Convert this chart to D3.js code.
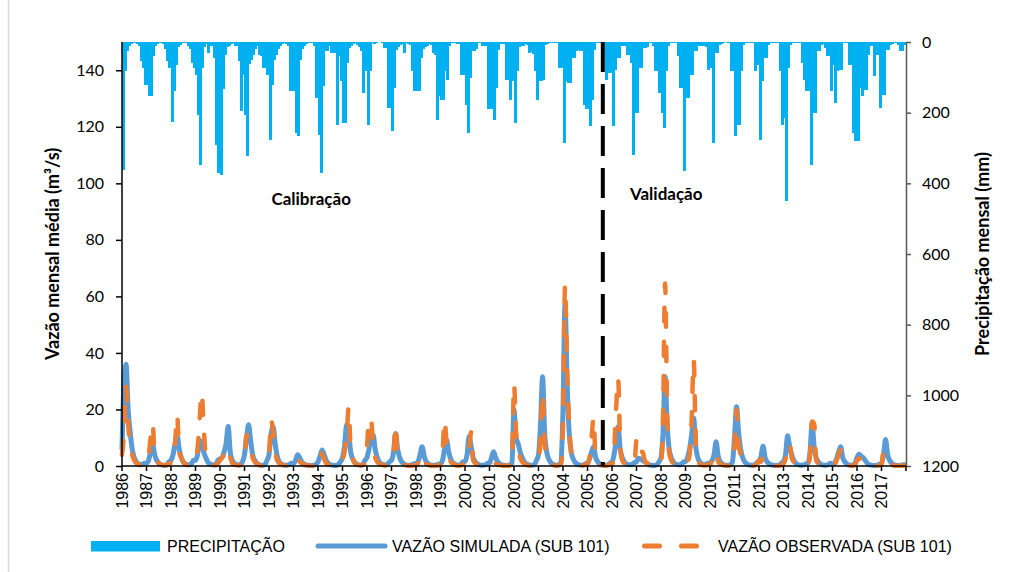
<!DOCTYPE html>
<html lang="pt-BR">
<head>
<meta charset="utf-8">
<script src="https://cdn.jsdelivr.net/npm/d3@7"></script>
<style>
  body { margin: 0; background: #fff; }
  svg { display: block; }
</style>
</head>
<body>
<script>
// dimensões da figura
const w = 1015;
const h = 572;

// anos (rótulos do eixo x) — série mensal de jan/1986 a dez/2017
const anos = d3.range(1986, 2018);

// precipitação mensal (mm), uma linha por ano
const precipitacao = [
  361, 83, 25, 12, 5, 3, 3, 5, 10, 55, 74, 121,
  121, 154, 154, 40, 12, 5, 3, 2, 5, 20, 55, 74,
  225, 140, 65, 15, 8, 3, 2, 3, 10, 20, 60, 74,
  92, 206, 347, 74, 15, 5, 30, 12, 10, 45, 291, 371,
  375, 133, 36, 15, 10, 5, 3, 12, 12, 55, 196, 92,
  206, 324, 62, 50, 36, 20, 10, 36, 40, 74, 74, 92,
  276, 121, 50, 36, 20, 12, 5, 3, 5, 12, 140, 140,
  140, 258, 267, 50, 20, 10, 5, 3, 3, 4, 10, 158,
  262, 371, 125, 26, 26, 12, 31, 31, 31, 234, 40, 111,
  229, 229, 59, 17, 10, 5, 3, 8, 15, 25, 144, 83,
  234, 83, 3, 5, 2, 0, 1, 4, 17, 17, 187, 187,
  253, 130, 22, 14, 8, 5, 31, 2, 7, 9, 83, 140,
  140, 140, 45, 20, 15, 10, 5, 8, 30, 38, 220, 154,
  163, 163, 83, 107, 12, 3, 3, 2, 7, 7, 92, 92,
  177, 258, 102, 26, 26, 20, 3, 3, 12, 12, 12, 191,
  191, 191, 220, 130, 22, 7, 5, 7, 107, 107, 163, 111,
  229, 83, 14, 12, 10, 5, 8, 31, 28, 33, 83, 163,
  111, 111, 107, 8, 7, 3, 2, 3, 3, 4, 74, 74,
  286, 111, 116, 116, 45, 45, 26, 22, 26, 26, 177, 191,
  191, 239, 163, 22, 3, 3, 2, 3, 4, 107, 88, 88,
  239, 78, 45, 45, 12, 12, 10, 36, 36, 59, 319, 201,
  201, 74, 74, 17, 17, 15, 3, 3, 12, 83, 83, 144,
  200, 243, 83, 12, 3, 3, 2, 3, 40, 130, 130, 366,
  158, 158, 92, 92, 26, 26, 12, 10, 12, 12, 14, 78,
  74, 286, 31, 31, 8, 7, 2, 1, 3, 2, 83, 83,
  267, 234, 234, 83, 8, 3, 3, 2, 3, 3, 83, 64,
  276, 111, 45, 45, 8, 3, 3, 2, 3, 3, 83, 234,
  215, 451, 74, 8, 3, 3, 2, 3, 3, 59, 107, 140,
  140, 347, 201, 201, 26, 26, 8, 7, 17, 40, 40, 140,
  64, 173, 83, 78, 78, 3, 3, 2, 64, 64, 258, 281,
  281, 130, 154, 135, 135, 36, 12, 12, 97, 36, 36, 187,
  149, 149, 22, 22, 8, 7, 3, 3, 8, 26, 26, 8
];

// vazão simulada (m³/s)
const vazaoSimulada = [
  6, 30, 36, 20, 12, 6, 3, 1.5, 0.8, 0.5, 0.5, 1,
  1, 2, 5, 7.5, 4, 2, 1, 0.5, 0.3, 0.3, 0.5, 1.5,
  2, 4, 8, 11, 6, 3, 1.5, 0.8, 0.5, 0.4, 0.8, 2,
  2, 4, 9, 8, 5, 3, 1.5, 0.8, 0.5, 0.4, 0.6, 2,
  2.5, 3, 5, 8, 14, 5, 2, 1, 0.5, 0.4, 0.5, 1.5,
  4, 10, 14.6, 9, 4, 2, 1, 0.5, 0.3, 0.3, 0.5, 2,
  4, 11, 14, 8, 3.5, 1.5, 0.8, 0.4, 0.3, 0.3, 0.5, 1,
  0.8, 2, 4, 3, 1.5, 0.8, 0.4, 0.3, 0.2, 0.2, 0.3, 0.6,
  1.5, 3.5, 5.7, 4, 2, 1, 0.5, 0.3, 0.2, 0.2, 0.6, 1.5,
  3, 7, 14.6, 12, 5, 2.5, 1.2, 0.6, 0.4, 0.3, 0.6, 2,
  3, 6, 10, 11, 6, 3, 1.5, 0.8, 0.5, 0.4, 0.6, 1.5,
  2, 5, 11.5, 6, 3, 1.5, 0.8, 0.4, 0.3, 0.3, 0.4, 0.8,
  0.8, 1.5, 4, 6.8, 3.5, 1.5, 0.8, 0.4, 0.3, 0.3, 0.4, 0.6,
  0.8, 2, 6, 9.2, 5, 2.5, 1.2, 0.6, 0.4, 0.3, 0.5, 1.5,
  1.5, 4, 10.4, 7, 3, 1.5, 0.8, 0.4, 0.3, 0.3, 0.4, 1,
  1, 3, 5, 3, 1.5, 0.8, 0.4, 0.3, 0.2, 0.2, 0.4, 1.2,
  19.8, 10, 8, 5, 3, 1.5, 0.8, 0.5, 0.3, 0.3, 0.6, 2,
  4, 15, 31.6, 12, 5, 2.5, 1.2, 0.6, 0.4, 0.3, 0.5, 1.5,
  20, 57.5, 30, 12, 5, 2.5, 1.2, 0.6, 0.4, 0.3, 0.4, 0.8,
  1, 2.5, 5, 6.8, 3, 1.5, 0.8, 0.4, 0.3, 0.3, 0.4, 1,
  1.5, 4, 9, 13.9, 6, 3, 1.5, 0.8, 0.5, 0.4, 0.6, 1.2,
  1.5, 2.7, 2.5, 2, 1.5, 1, 0.5, 0.3, 0.2, 0.2, 0.5, 1.5,
  3, 12, 31.6, 15, 6, 3, 1.5, 0.8, 0.5, 0.4, 0.6, 1.5,
  1.5, 3, 6, 11, 16.9, 7, 3, 1.5, 0.8, 0.5, 0.5, 1,
  1, 2, 4, 8.6, 3.5, 1.5, 0.8, 0.4, 0.3, 0.3, 0.5, 1.5,
  10, 21, 12, 6, 3, 1.5, 0.8, 0.4, 0.3, 0.3, 0.5, 1.2,
  1.5, 3.5, 7, 3, 1.5, 0.8, 0.4, 0.3, 0.2, 0.2, 0.4, 1,
  1.5, 4, 10.7, 7, 4, 2, 1, 0.5, 0.3, 0.3, 0.4, 0.8,
  1, 5, 15, 7, 3, 1.5, 0.8, 0.4, 0.3, 0.3, 0.5, 1,
  0.5, 1, 2.5, 5, 6.8, 3, 1.5, 0.8, 0.4, 0.3, 0.4, 0.8,
  3, 4.2, 3.5, 3, 2, 1, 0.5, 0.3, 0.2, 0.2, 0.3, 0.6,
  1, 4, 9.4, 4, 2, 1, 0.5, 0.3, 0.2, 0.2, 0.3, 0.5
];

// vazão observada (m³/s)
const vazaoObservada = [
  4, 12, 28, 15, 8, 4, 2, 1, 0.5, 0.3, 0.3, 0.5,
  0.5, 3, 10, 15, 4, 2, 1, 0.5, 0.3, 0.3, 0.3, 1,
  1, 4, 8, 18, 5, 3, 1.5, 0.5, 0.3, 0.3, 0.5, 2,
  2, 6, 16, 26, 14, 4, 2, 1, 0.5, 0.3, 0.3, 1,
  2, 3, 4, 6.5, 4, 3, 1, 0.5, 0.3, 0.2, 0.3, 1,
  3, 11, 9, 8, 3, 1.5, 0.8, 0.4, 0.2, 0.2, 0.3, 1.5,
  3, 16.4, 12, 5, 2, 1, 0.5, 0.3, 0.2, 0.2, 0.3, 0.5,
  0.3, 1.5, 2.7, 1.5, 1, 0.5, 0.3, 0.2, 0.1, 0.1, 0.1, 0.3,
  2, 5, 4, 2.5, 1, 0.5, 0.3, 0.2, 0.1, 0.1, 0.1, 0.5,
  2, 5, 10, 20.6, 6, 3, 1, 0.5, 0.3, 0.2, 0.3, 1,
  7, 16.5, 17, 6, 3, 1.5, 0.8, 0.4, 0.3, 0.2, 0.3, 0.8,
  1.5, 4, 14.5, 3, 2, 1, 0.5, 0.3, 0.2, 0.1, 0.1, 0.3,
  0.3, 1, 4, 3, 1.5, 0.8, 0.4, 0.2, 0.1, 0.1, 0.1, 0.3,
  0.5, 5, 16.3, 8, 3.5, 1.5, 0.8, 0.4, 0.2, 0.1, 0.2, 0.5,
  1, 4.5, 6, 12, 2, 1, 0.5, 0.3, 0.2, 0.1, 0.1, 0.4,
  0.5, 1, 1, 0.8, 0.5, 0.3, 0.2, 0.1, 0.1, 0.1, 0.2, 0.5,
  29, 12, 6, 3, 1.5, 0.8, 0.4, 0.2, 0.1, 0.1, 0.2, 1,
  2, 10, 26, 8, 3, 1.5, 0.7, 0.4, 0.2, 0.1, 0.2, 0.8,
  15, 64, 35, 15, 5, 2, 1, 0.5, 0.3, 0.2, 0.2, 0.5,
  0.5, 3, 10, 17, 2, 1, 0.5, 0.3, 0.2, 0.1, 0.2, 0.8,
  0.5, 5, 20, 31, 8, 2, 1, 0.5, 0.3, 0.2, 0.3, 0.8,
  9, 4, 5, 5, 2, 1, 0.5, 0.3, 0.2, 0.1, 0.2, 0.5,
  1, 18, 64.6, 20, 5, 2, 1, 0.5, 0.3, 0.2, 0.2, 0.5,
  0.5, 1.5, 4, 16, 37.5, 10, 2, 0.8, 0.4, 0.2, 0.2, 0.5,
  0.3, 2, 2.5, 5, 1.5, 0.8, 0.4, 0.2, 0.1, 0.1, 0.2, 1,
  6, 19.8, 8, 4, 2, 1, 0.5, 0.3, 0.2, 0.1, 0.2, 0.8,
  2, 1.5, 3.3, 1.5, 0.8, 0.4, 0.2, 0.1, 0.1, 0.1, 0.1, 0.3,
  0.8, 2.5, 6, 8, 3, 1.5, 0.7, 0.3, 0.2, 0.1, 0.1, 0.3,
  0.5, 4, 15.7, 15, 2, 1, 0.5, 0.3, 0.2, 0.1, 0.1, 0.3,
  0.2, 0.5, 2, 4, 5.6, 2, 0.8, 0.4, 0.2, 0.1, 0.1, 0.3,
  2, 2.7, 2, 1.5, 0.8, 0.4, 0.2, 0.1, 0.1, 0.1, 0.1, 0.2,
  0.5, 5, 3, 1.5, 0.8, 0.4, 0.2, 0.1, 0.1, 0.1, 0.1, 0.2
];

// ticks dos eixos y
const ticksVazao = d3.range(0, 141, 20);
const ticksPrecip = d3.range(0, 1201, 200);

// divisão calibração / validação (ano, mês) e rótulos dos períodos
const divisao = { ano: 2005, mes: 8.5 };
const periodos = [
  { nome: "Calibração", ano: 1992, mes: 2.2, vazao: 92.3 },
  { nome: "Validação", ano: 2006, mes: 9.8, vazao: 94 }
];

const mesIndice = (ano, mes) => (ano - anos[0]) * 12 + mes - 1;

// escalas
const x = d3.scaleLinear().domain([0, precipitacao.length]).range([122, 906]);
const yVazao = d3.scaleLinear().domain([0, 150]).range([466, 42]);
const yPrecip = d3.scaleLinear().domain([0, 1200]).range([42, 466]);

const svg = d3.select("body").append("svg").attr("width", w).attr("height", h);

// borda esquerda da área do gráfico
svg.append("line")
  .attr("x1", 8.5).attr("x2", 8.5)
  .attr("y1", 0).attr("y2", h)
  .attr("stroke", "#d9d9d9").attr("stroke-width", 1.5);

// barras de precipitação (eixo secundário invertido), em pixels inteiros para não deixar frestas
svg.append("g")
  .attr("shape-rendering", "crispEdges")
  .selectAll("rect")
  .data(precipitacao)
  .enter()
  .append("rect")
  .attr("x", (d, i) => Math.floor(x(i)))
  .attr("y", yPrecip(0))
  .attr("width", (d, i) => Math.ceil(x(i + 1)) - Math.floor(x(i)))
  .attr("height", (d) => yPrecip(d) - yPrecip(0))
  .attr("fill", "#00b0f0");

// linhas de vazão
const linha = d3.line()
  .x((d, i) => x(i))
  .y((d) => yVazao(d))
  .curve(d3.curveMonotoneX);

svg.append("path")
  .attr("d", linha(vazaoSimulada))
  .attr("fill", "none")
  .attr("stroke", "#5b9bd5")
  .attr("stroke-width", 5)
  .attr("stroke-linejoin", "round")
  .attr("stroke-linecap", "round");

svg.append("path")
  .attr("d", linha(vazaoObservada))
  .attr("fill", "none")
  .attr("stroke", "#ed7d31")
  .attr("stroke-width", 4.5)
  .attr("stroke-linejoin", "round")
  .attr("stroke-linecap", "round")
  .attr("stroke-dasharray", "14 20");

// linha tracejada de divisão
const xDiv = x(mesIndice(divisao.ano, divisao.mes));
svg.append("line")
  .attr("x1", xDiv).attr("x2", xDiv)
  .attr("y1", yVazao(150)).attr("y2", yVazao(0))
  .attr("stroke", "#000")
  .attr("stroke-width", 4)
  .attr("stroke-dasharray", "30 12");

// eixo esquerdo
const eixoEsq = svg.append("g")
  .attr("transform", "translate(122,0)")
  .call(d3.axisLeft(yVazao).tickValues(ticksVazao).tickSize(6).tickPadding(12).tickSizeOuter(0));
eixoEsq.select(".domain").attr("stroke", "#000").attr("stroke-width", 1.5)
  .attr("d", `M0,${yVazao(0)}V${yVazao(150)}`);
eixoEsq.selectAll(".tick line").attr("stroke", "#000").attr("stroke-width", 1.5);
eixoEsq.selectAll("text")
  .attr("font-family", "Lato, sans-serif")
  .attr("font-size", "16px")
  .attr("fill", "#000");

// eixo direito
const eixoDir = svg.append("g")
  .attr("transform", "translate(906,0)")
  .call(d3.axisRight(yPrecip).tickValues(ticksPrecip).tickFormat(d3.format("d"))
    .tickSize(5).tickPadding(11).tickSizeOuter(0));
eixoDir.select(".domain").attr("stroke", "#595959").attr("stroke-width", 1.5);
eixoDir.selectAll(".tick line").attr("stroke", "#595959").attr("stroke-width", 1.5);
eixoDir.selectAll("text")
  .attr("font-family", "Lato, sans-serif")
  .attr("font-size", "16px")
  .attr("fill", "#000");

// eixo x
const eixoX = svg.append("g");
eixoX.append("line")
  .attr("x1", x(0)).attr("x2", x(precipitacao.length))
  .attr("y1", yVazao(0)).attr("y2", yVazao(0))
  .attr("stroke", "#000").attr("stroke-width", 1.5);
eixoX.selectAll("line.tick")
  .data(d3.range(0, anos.length + 1))
  .enter()
  .append("line")
  .attr("class", "tick")
  .attr("x1", (d) => x(d * 12)).attr("x2", (d) => x(d * 12))
  .attr("y1", yVazao(0)).attr("y2", yVazao(0) + 5)
  .attr("stroke", "#000").attr("stroke-width", 1.5);
eixoX.selectAll("text")
  .data(anos)
  .enter()
  .append("text")
  .text((d) => d)
  .attr("transform", (d, i) => `translate(${x(i * 12)},${yVazao(0) + 7}) rotate(-90)`)
  .attr("dy", "0.36em")
  .attr("text-anchor", "end")
  .attr("font-family", "'Liberation Sans', Arial, sans-serif")
  .attr("font-size", "16px")
  .attr("fill", "#000");

// títulos dos eixos
svg.append("text")
  .text("Vazão mensal média (m³/s)")
  .attr("transform", `translate(59,${(yVazao(0) + yVazao(150)) / 2}) rotate(-90)`)
  .attr("text-anchor", "middle")
  .attr("font-family", "Lato, sans-serif")
  .attr("font-weight", "bold")
  .attr("font-size", "18px")
  .attr("fill", "#000");

svg.append("text")
  .text("Precipitação mensal (mm)")
  .attr("transform", `translate(989,${(yVazao(0) + yVazao(150)) / 2}) rotate(-90)`)
  .attr("text-anchor", "middle")
  .attr("font-family", "Lato, sans-serif")
  .attr("font-weight", "bold")
  .attr("font-size", "18px")
  .attr("fill", "#000");

// rótulos dos períodos
svg.selectAll("text.periodo")
  .data(periodos)
  .enter()
  .append("text")
  .attr("class", "periodo")
  .text((d) => d.nome)
  .attr("x", (d) => x(mesIndice(d.ano, d.mes)))
  .attr("y", (d) => yVazao(d.vazao))
  .attr("font-family", "Lato, sans-serif")
  .attr("font-weight", "bold")
  .attr("font-size", "17px")
  .attr("fill", "#000");

// legenda
const legenda = svg.append("g")
  .attr("font-family", "'Liberation Sans', Arial, sans-serif")
  .attr("font-size", "16px")
  .attr("fill", "#000");

legenda.append("rect")
  .attr("x", 91).attr("y", 541)
  .attr("width", 69).attr("height", 10.5)
  .attr("fill", "#00b0f0");
legenda.append("text").attr("x", 167).attr("y", 551.5).text("PRECIPITAÇÃO");

legenda.append("line")
  .attr("x1", 318).attr("x2", 385)
  .attr("y1", 546).attr("y2", 546)
  .attr("stroke", "#5b9bd5").attr("stroke-width", 5)
  .attr("stroke-linecap", "round");
legenda.append("text").attr("x", 392).attr("y", 551.5).text("VAZÃO SIMULADA (SUB 101)");

legenda.append("line")
  .attr("x1", 644.5).attr("x2", 697.5)
  .attr("y1", 546).attr("y2", 546)
  .attr("stroke", "#ed7d31").attr("stroke-width", 5)
  .attr("stroke-linecap", "round")
  .attr("stroke-dasharray", "15 22");
legenda.append("text").attr("x", 718).attr("y", 551.5).text("VAZÃO OBSERVADA (SUB 101)");
</script>
</body>
</html>
